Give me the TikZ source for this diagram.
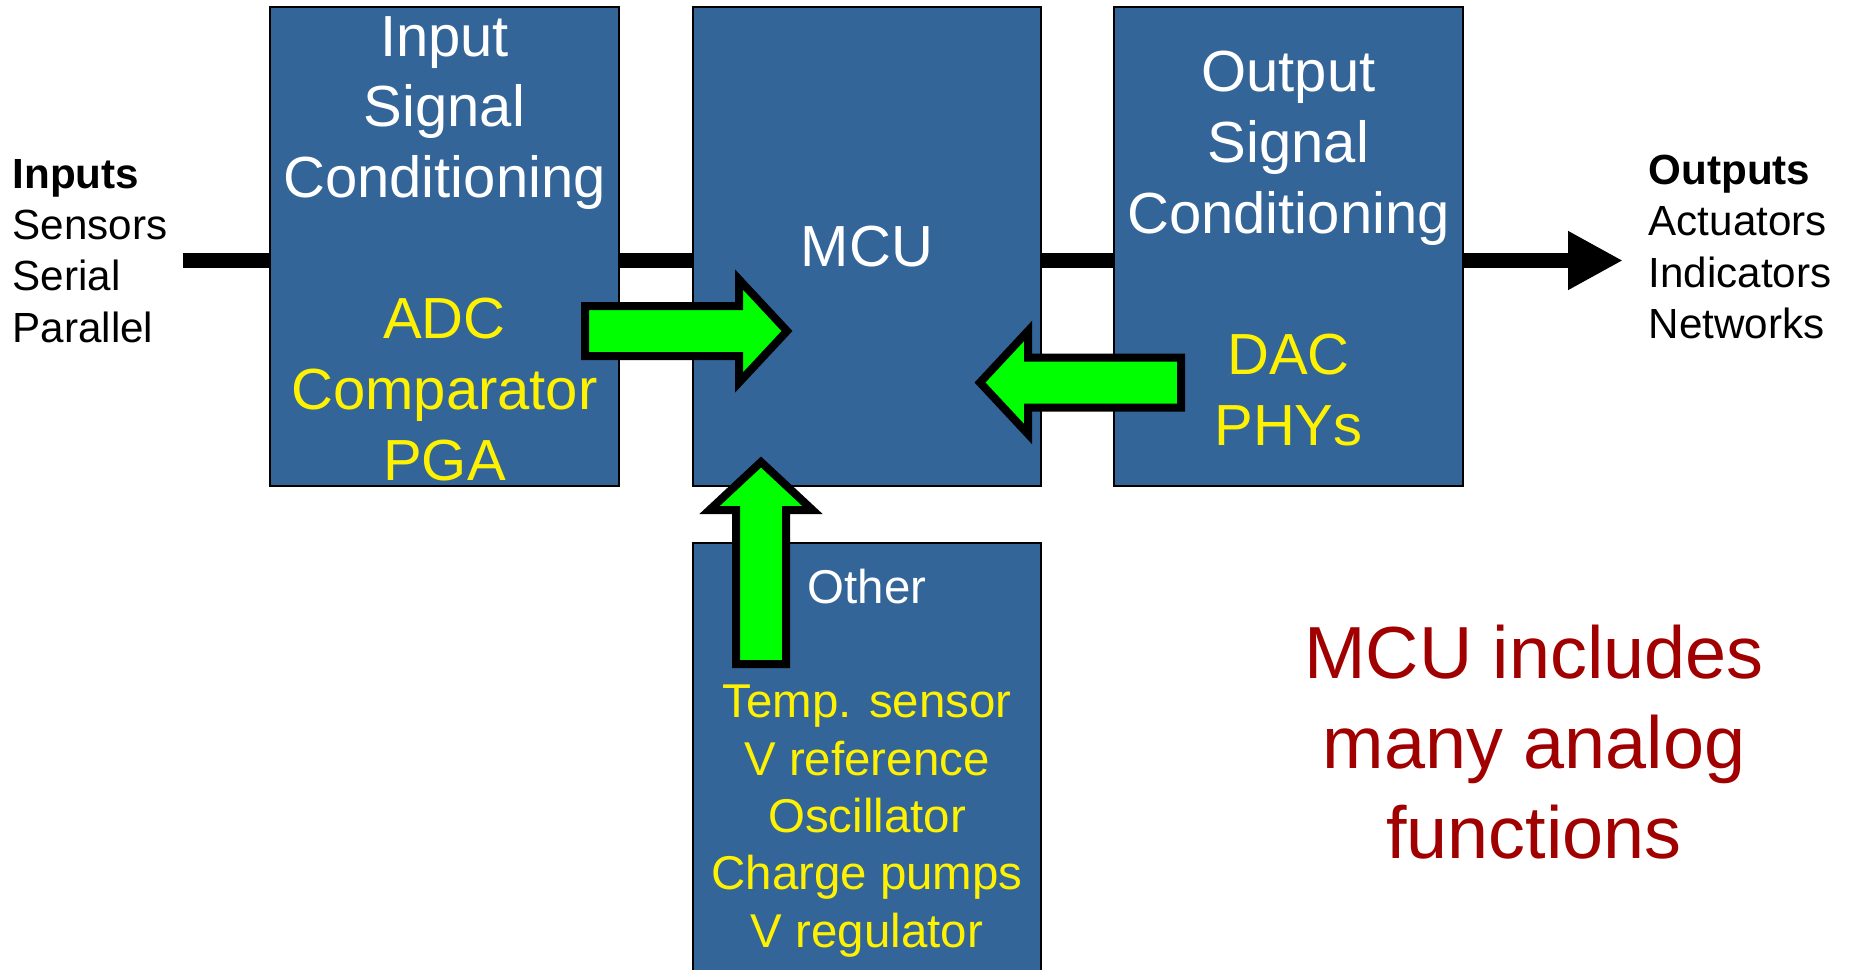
\documentclass[tikz,border=0pt]{standalone}
\usepackage{fontspec}
\setmainfont{Liberation Sans}
\usetikzlibrary{arrows.meta,calc}
\definecolor{boxblue}{RGB}{52,101,153}
\definecolor{arrowgreen}{RGB}{0,255,0}
\definecolor{notered}{RGB}{160,0,0}
\newcommand{\fatarrow}[3]{%
  \begin{scope}[shift={(#1)}, rotate=#2]
    \draw[fat] (0,-0.25) -- (#3-0.48,-0.25) -- (#3-0.48,-0.515) -- (#3,0)
      -- (#3-0.48,0.515) -- (#3-0.48,0.25) -- (0,0.25) -- cycle;
  \end{scope}
}

\begin{document}
\begin{tikzpicture}[line join=miter, >=Latex]
\tikzset{block/.style={draw=black, line width=0.6pt, fill=boxblue, text=white, inner sep=0pt, align=center, font=\fontsize{16.5}{20.1}\selectfont},
  small block/.style={block, font=\fontsize{13.5}{16.3}\selectfont},
  side/.style={inner sep=0pt, align=left, anchor=west, font=\fontsize{12}{14.6}\selectfont},
  note/.style={inner sep=0pt, align=center, text=notered, font=\fontsize{21}{25.6}\selectfont},
  bus/.style={line width=0.15cm},
  fat/.style={draw=black, line width=0.08cm, fill=arrowgreen}}

\useasboundingbox (0,0) rectangle (18.49,-9.69);
\clip (0,0) rectangle (18.49,-9.69);

% blocks
\node[block, minimum width=3.49cm, minimum height=4.79cm] (inbox) at (4.445,-2.465) {};
\node[block, minimum width=3.48cm, minimum height=4.79cm] (mcu) at (8.67,-2.465) {MCU};
\node[block, minimum width=3.49cm, minimum height=4.79cm] (outbox) at (12.885,-2.465) {};
\node[small block, minimum width=3.48cm, minimum height=4.31cm] (other) at (8.67,-7.585) {};

% block texts
\node[block, draw=none, fill=none] at ($(inbox)+(0,-0.02)$)
  {Input\\Signal\\Conditioning\\[20.1pt]\color{yellow}ADC\\\color{yellow}Comparator\\\color{yellow}PGA};
\node[block, draw=none, fill=none] at ($(outbox)+(0,-0.02)$)
  {Output\\Signal\\Conditioning\\[20.1pt]\color{yellow}DAC\\\color{yellow}PHYs};
\node[small block, draw=none, fill=none] at ($(other)+(0,-0.045)$)
  {Other\\[16.3pt]\color{yellow}Temp. sensor\\\color{yellow}V reference\\\color{yellow}Oscillator\\\color{yellow}Charge pumps\\\color{yellow}V regulator};

% side labels
\node[side] (inputs) at (0.12,-2.51) {\textbf{Inputs}\\Sensors\\Serial\\Parallel};
\node[side] (outputs) at (16.48,-2.47) {\textbf{Outputs}\\Actuators\\Indicators\\Networks};
\node[note] (remark) at (15.34,-7.42) {MCU includes\\many analog\\functions};

% signal path
\coordinate (inpt) at (1.83,-2.605);
\coordinate (outpt) at (16.23,-2.605);
\draw[bus] (inpt) -- (inpt -| inbox.west);
\draw[bus] (inbox.east |- inpt) -- (inpt -| mcu.west);
\draw[bus] (mcu.east |- inpt) -- (inpt -| outbox.west);
\draw[bus, -{Triangle[length=0.55cm, width=0.55cm]}] (outbox.east |- inpt) -- (outpt);

% analog feeds into the MCU
\fatarrow{5.85,-3.31}{0}{2.02}
\fatarrow{11.81,-3.825}{180}{2.01}
\fatarrow{7.61,-6.64}{90}{2.02}
\end{tikzpicture}
\end{document}
